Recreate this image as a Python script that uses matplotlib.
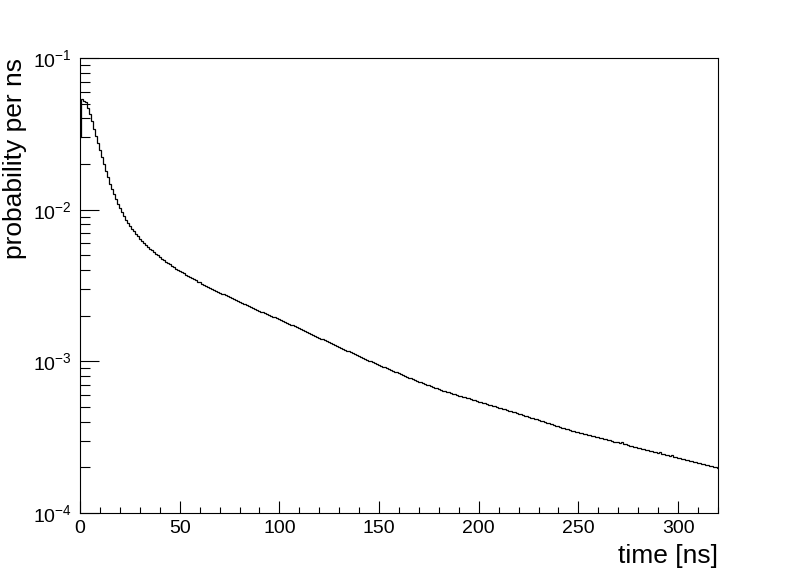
import numpy as np
import matplotlib
matplotlib.use('Agg')
import matplotlib.pyplot as plt
from matplotlib.ticker import LogLocator, MultipleLocator, NullFormatter

plt.rcParams['font.family'] = ['Liberation Sans', 'DejaVu Sans']
plt.rcParams['mathtext.default'] = 'regular'

# histogram: 1 ns bins centred on whole ns, first bin centred at 0 ns
first_edge = -0.5
bin_width = 1.0
# probability per ns, in units of 1e-4
prob_e4 = [
    303,                                                    # 0
    534, 523, 511, 468, 427, 384, 340, 306, 275, 248,      # 1-10
    223, 200, 180, 164, 148, 137, 127, 118, 109, 103,
    96.6, 90.8, 86.1, 81.7, 78.1, 75.0, 72.0, 69.3, 66.8, 64.5,
    62.4, 60.4, 58.6, 56.9, 55.3, 53.9, 52.5, 51.2, 49.9, 48.7,
    47.6, 46.5, 45.5, 44.5, 43.5, 42.6, 41.7, 40.9, 40.1, 39.4,
    38.7, 38.0, 37.3, 36.6, 36.0, 35.4, 34.8, 34.2, 33.6, 33.1,
    32.5, 32.0, 31.5, 31.0, 30.5, 30.0, 29.6, 29.2, 28.8, 28.4,
    28.0, 27.6, 27.2, 26.8, 26.4, 26.0, 25.7, 25.3, 25.0, 24.6,
    24.3, 24.0, 23.7, 23.4, 23.1, 22.8, 22.5, 22.2, 21.9, 21.6,
    21.3, 21.0, 20.8, 20.5, 20.2, 20.0, 19.7, 19.5, 19.2, 19.0,
    18.75, 18.49, 18.23, 17.97, 17.72, 17.47, 17.23, 16.99, 16.75, 16.52,
    16.29, 16.06, 15.83, 15.61, 15.39, 15.18, 14.96, 14.75, 14.55, 14.34,
    14.14, 13.95, 13.75, 13.56, 13.37, 13.18, 13.00, 12.81, 12.63, 12.46,
    12.28, 12.11, 11.94, 11.78, 11.61, 11.45, 11.29, 11.13, 10.98, 10.82,
    10.67, 10.52, 10.38, 10.25, 10.12, 9.99, 9.86, 9.73, 9.61, 9.48,
    9.36, 9.24, 9.12, 9.01, 8.89, 8.78, 8.66, 8.55, 8.44, 8.33,
    8.23, 8.12, 8.02, 7.91, 7.81, 7.71, 7.61, 7.52, 7.44, 7.35,
    7.27, 7.18, 7.10, 7.02, 6.94, 6.86, 6.78, 6.71, 6.63, 6.56,
    6.48, 6.41, 6.35, 6.29, 6.23, 6.18, 6.12, 6.06, 6.01, 5.95,
    5.90, 5.84, 5.79, 5.74, 5.69, 5.63, 5.58, 5.53, 5.48, 5.43,
    5.38, 5.33, 5.28, 5.24, 5.19, 5.14, 5.10, 5.05, 5.00, 4.96,
    4.91, 4.87, 4.83, 4.78, 4.73, 4.69, 4.64, 4.60, 4.56, 4.51,
    4.47, 4.43, 4.39, 4.34, 4.30, 4.26, 4.22, 4.18, 4.14, 4.10,
    4.06, 4.02, 3.99, 3.95, 3.91, 3.87, 3.84, 3.80, 3.77, 3.73,
    3.70, 3.66, 3.63, 3.59, 3.56, 3.52, 3.49, 3.47, 3.44, 3.41,
    3.39, 3.36, 3.33, 3.31, 3.28, 3.26, 3.23, 3.21, 3.18, 3.16,
    3.13, 3.11, 3.08, 3.06, 3.03, 3.01, 2.99, 2.96, 2.94, 2.92,
    2.89, 2.93, 2.85, 2.83, 2.80, 2.78, 2.76, 2.74, 2.72, 2.70,
    2.67, 2.65, 2.63, 2.61, 2.59, 2.57, 2.55, 2.53, 2.51, 2.49,
    2.53, 2.45, 2.44, 2.42, 2.40, 2.38, 2.42, 2.34, 2.33, 2.31,
    2.29, 2.27, 2.26, 2.24, 2.22, 2.21, 2.19, 2.17, 2.16, 2.14,
    2.12, 2.11, 2.09, 2.08, 2.06, 2.04, 2.03, 2.01, 2.00, 1.98,
]

prob = np.array(prob_e4) * 1e-4
edges = first_edge + bin_width * np.arange(len(prob) + 1)

fig = plt.figure(figsize=(7.98, 5.71), dpi=100)
ax = fig.add_axes([0.1003, 0.1016, 0.7994, 0.7968])

ax.stairs(prob, edges, baseline=None, color='black', linewidth=0.9)

ax.set_yscale('log')
ax.set_xlim(0, 320)
ax.set_ylim(1e-4, 1e-1)

# ROOT-like frame: ticks inside, only on bottom/left
ax.xaxis.set_major_locator(MultipleLocator(50))
ax.xaxis.set_minor_locator(MultipleLocator(10))
ax.yaxis.set_major_locator(LogLocator(base=10, numticks=10))
ax.yaxis.set_minor_locator(LogLocator(base=10, subs=np.arange(2, 10), numticks=20))
ax.yaxis.set_minor_formatter(NullFormatter())
ax.yaxis.set_major_formatter(plt.FuncFormatter(lambda v, p: '$10^{%d}$' % round(np.log10(v))))

ax.tick_params(axis='x', which='major', direction='in', length=9, width=0.8, labelsize=14, pad=5)
ax.tick_params(axis='x', which='minor', direction='in', length=4.5, width=0.8)
ax.tick_params(axis='y', which='major', direction='in', length=14, width=0.8, labelsize=14, pad=6)
ax.tick_params(axis='y', which='minor', direction='in', length=7, width=0.8)
for s in ax.spines.values():
    s.set_linewidth(0.8)

ax.set_xlabel('time [ns]', fontsize=19, loc='right', labelpad=5)
ax.set_ylabel('probability per ns', fontsize=19, loc='top', labelpad=4)

fig.savefig('out.png', dpi=100)
